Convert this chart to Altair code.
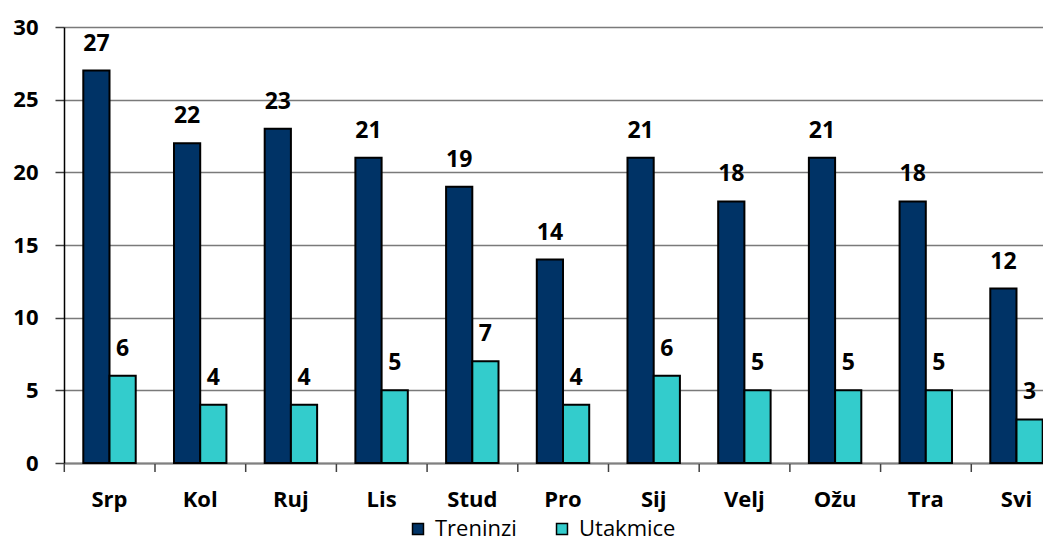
import altair as alt
import pandas as pd

months = ["Srp", "Kol", "Ruj", "Lis", "Stud", "Pro", "Sij", "Velj", "Ožu", "Tra", "Svi"]
treninzi = [27, 22, 23, 21, 19, 14, 21, 18, 21, 18, 12]
utakmice = [6, 4, 4, 5, 7, 4, 6, 5, 5, 5, 3]
series = ["Treninzi", "Utakmice"]
colors = ["#003366", "#33CCCC"]

rows = []
for m, t, u in zip(months, treninzi, utakmice):
    rows.append({"mjesec": m, "serija": series[0], "vrijednost": t})
    rows.append({"mjesec": m, "serija": series[1], "vrijednost": u})
df = pd.DataFrame(rows)
df_months = pd.DataFrame({"mjesec": months})

FONT = "Open Sans"

xscale = alt.Scale(paddingInner=0.422, paddingOuter=0.108, align=0.985)
xaxis = alt.Axis(
    labelAngle=0,
    labelFont=FONT,
    labelFontWeight="bold",
    labelFontSize=22,
    labelColor="black",
    labelPadding=26,
    ticks=False,
    domainColor="#808080",
    domainWidth=2,
    grid=False,
)
x = alt.X("mjesec:N", sort=months, title=None, scale=xscale, axis=xaxis)
y = alt.Y(
    "vrijednost:Q",
    title=None,
    scale=alt.Scale(domain=[0, 30], nice=False),
    axis=alt.Axis(
        values=[0, 5, 10, 15, 20, 25, 30],
        labelFont=FONT,
        labelFontWeight="bold",
        labelFontSize=22,
        labelColor="black",
        labelPadding=17,
        tickSize=9,
        tickColor="#404040",
        tickWidth=1.5,
        domainColor="black",
        domainWidth=1.5,
        gridColor="#7a7a7a",
        gridWidth=1.5,
    ),
)
color = alt.Color(
    "serija:N",
    scale=alt.Scale(domain=series, range=colors),
    legend=alt.Legend(
        title=None,
        orient="none",
        direction="horizontal",
        legendX=343,
        legendY=491,
        symbolType="square",
        symbolSize=120,
        symbolStrokeColor="black",
        symbolStrokeWidth=1.5,
        labelFont=FONT,
        labelFontSize=22,
        labelColor="black",
        labelOffset=6,
        columnPadding=34,
    ),
)
xoff = alt.XOffset("serija:N", sort=series, scale=alt.Scale(paddingInner=0, paddingOuter=0))

bars = alt.Chart(df).mark_bar(stroke="black", strokeWidth=2).encode(
    x=x, y=y, color=color, xOffset=xoff
)
labels = alt.Chart(df).mark_text(
    font=FONT, fontWeight="bold", fontSize=23, color="black", baseline="alphabetic", dy=-20
).encode(x=x, y=y, xOffset=xoff, text="vrijednost:Q")

# category separator ticks below the x axis (between month groups)
ticks = alt.Chart(df_months).mark_rule(color="#404040", strokeWidth=1.5).encode(
    x=alt.X("mjesec:N", sort=months, title=None, scale=xscale, axis=xaxis, bandPosition=0),
    xOffset=alt.XOffset(value=-19),
    y=alt.value(437),
    y2=alt.value(445),
)

chart = (
    alt.layer(ticks, bars, labels)
    .properties(
        width=979,
        height=436,
        autosize=alt.AutoSizeParams(type="none"),
        padding={"left": 56, "top": 19, "right": 0, "bottom": 79},
    )
    .configure_view(stroke=None)
)

chart.save("out.html", embed_options={"renderer": "svg", "actions": False})
